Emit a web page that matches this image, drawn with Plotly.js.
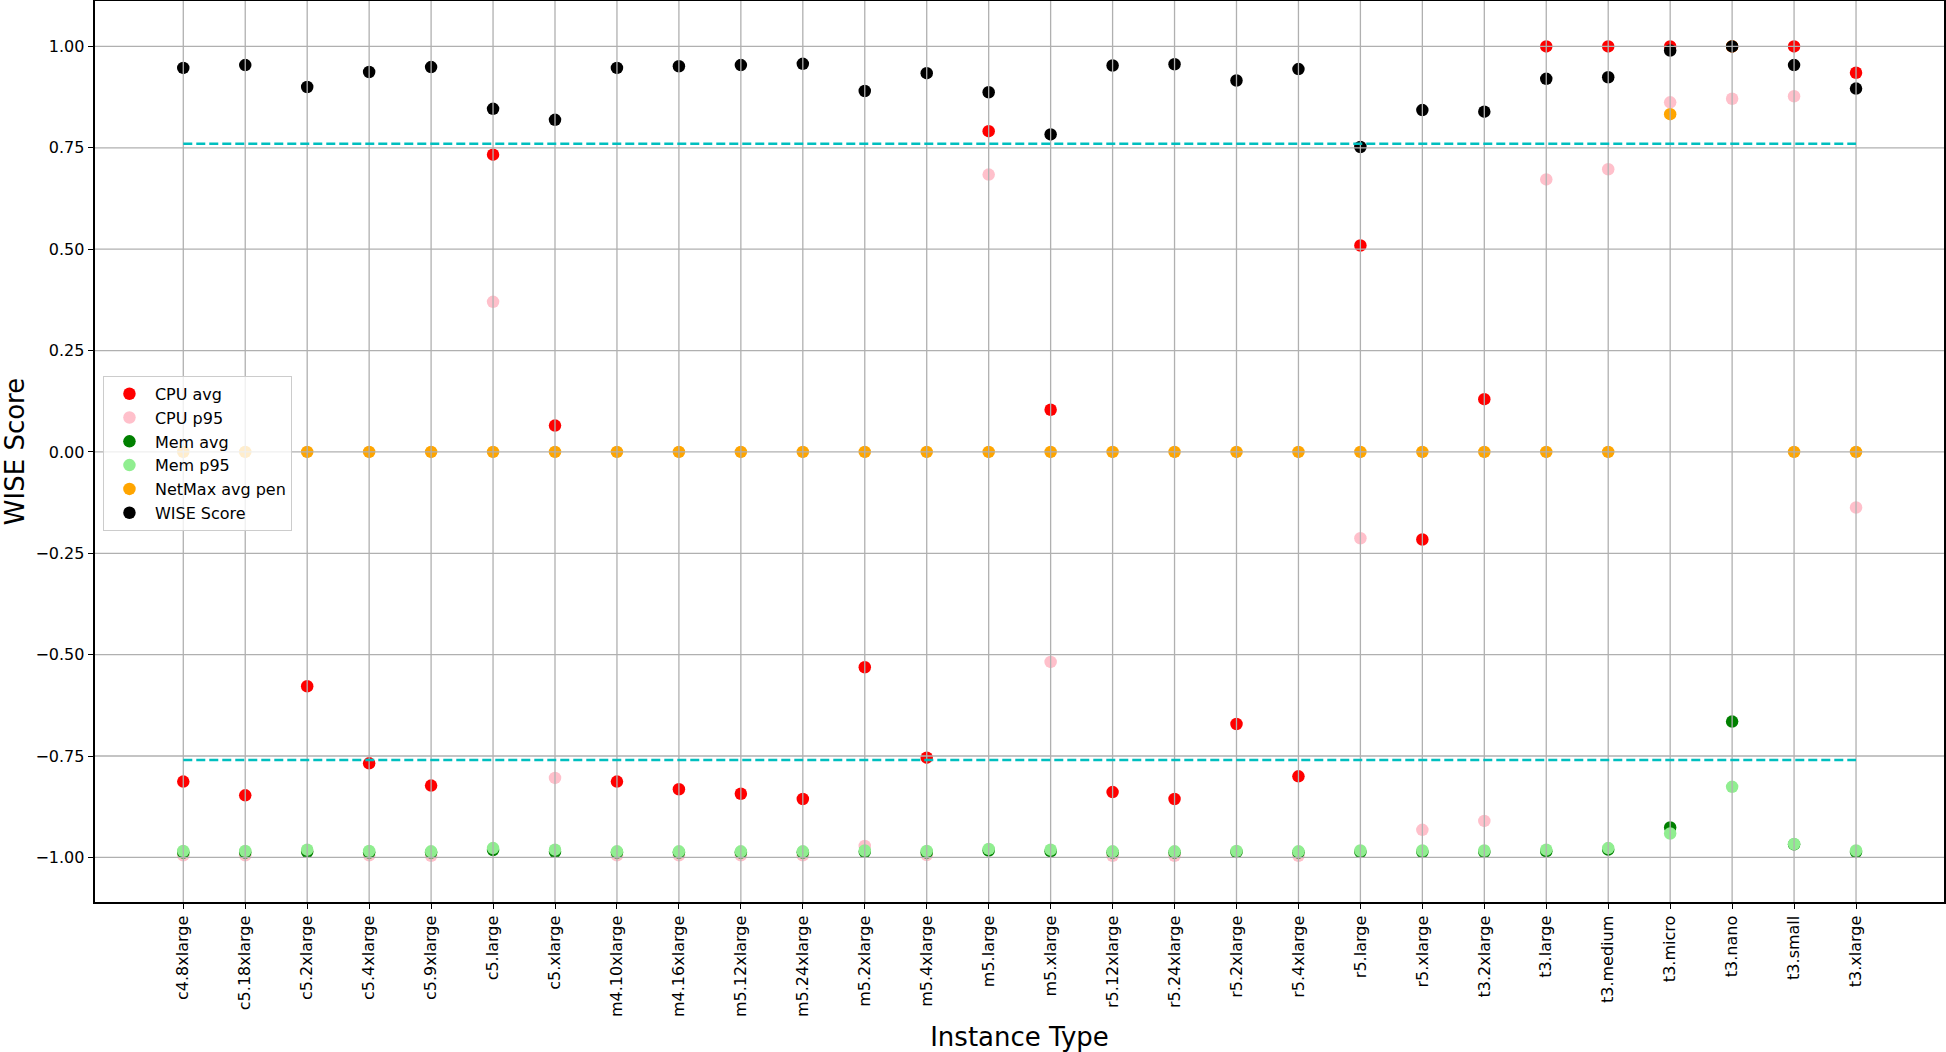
<!DOCTYPE html>
<html>
<head>
<meta charset="utf-8">
<script src="https://cdn.plot.ly/plotly-3.0.1.min.js"></script>
<style>
html, body { margin: 0; padding: 0; background: #fff; }
#chart { width: 1946px; height: 1052px; }
</style>
</head>
<body>
<div id="chart"></div>
<script>
// ---- Data ----
const categories = ["c4.8xlarge","c5.18xlarge","c5.2xlarge","c5.4xlarge","c5.9xlarge","c5.large","c5.xlarge","m4.10xlarge","m4.16xlarge","m5.12xlarge","m5.24xlarge","m5.2xlarge","m5.4xlarge","m5.large","m5.xlarge","r5.12xlarge","r5.24xlarge","r5.2xlarge","r5.4xlarge","r5.large","r5.xlarge","t3.2xlarge","t3.large","t3.medium","t3.micro","t3.nano","t3.small","t3.xlarge"];

const cpuAvg = [-0.813,-0.847,-0.578,-0.768,-0.823,0.733,0.065,-0.813,-0.832,-0.843,-0.856,-0.531,-0.754,0.791,0.104,-0.839,-0.856,-0.671,-0.800,0.509,-0.216,0.130,1.0,1.0,1.0,1.0,1.0,0.935];
const cpuP95 = [-0.995,-0.995,-0.985,-0.995,-0.996,0.370,-0.804,-0.995,-0.995,-0.995,-0.995,-0.972,-0.994,0.684,-0.518,-0.996,-0.996,-0.986,-0.996,-0.213,-0.932,-0.910,0.672,0.697,0.862,0.871,0.877,-0.137];
const memAvg = [-0.988,-0.988,-0.986,-0.988,-0.988,-0.982,-0.986,-0.988,-0.988,-0.988,-0.988,-0.986,-0.988,-0.983,-0.985,-0.988,-0.988,-0.987,-0.988,-0.987,-0.987,-0.987,-0.985,-0.981,-0.926,-0.665,-0.968,-0.987];
const memP95 = [-0.984,-0.984,-0.981,-0.984,-0.985,-0.977,-0.981,-0.985,-0.985,-0.985,-0.985,-0.983,-0.984,-0.979,-0.981,-0.985,-0.985,-0.984,-0.985,-0.983,-0.983,-0.983,-0.981,-0.977,-0.941,-0.826,-0.967,-0.983];
const netMax = [0,0,0,0,0,0,0,0,0,0,0,0,0,0,0,0,0,0,0,0,0,0,0,0,0.833,1.0,0,0];
const wiseScore = [0.947,0.954,0.900,0.937,0.949,0.846,0.819,0.947,0.951,0.954,0.957,0.890,0.934,0.887,0.783,0.953,0.956,0.916,0.944,0.752,0.843,0.839,0.920,0.924,0.990,1.000,0.954,0.896];

const thresholds = [0.76, -0.76];
const yTicks = [-1.0,-0.75,-0.5,-0.25,0.0,0.25,0.5,0.75,1.0];

const seriesNames = ["CPU avg","CPU p95","Mem avg","Mem p95","NetMax avg pen","WISE Score"];
const seriesColors = ["#ff0000","#ffc0cb","#008000","#90ee90","#ffa500","#000000"];
const seriesValues = [cpuAvg, cpuP95, memAvg, memP95, netMax, wiseScore];

// ---- Traces ----
const FONT = "DejaVu Sans, Verdana, sans-serif";
const traces = seriesValues.map((vals, i) => ({
  type: "scatter",
  mode: "markers",
  name: seriesNames[i],
  x: categories,
  y: vals,
  marker: { color: seriesColors[i], size: 12.5, line: { width: 0 } },
  hoverinfo: "x+y+name"
}));

// ---- Grid (drawn above markers, like matplotlib) and threshold lines ----
const gridColor = "#b0b0b0";
const shapes = [];
categories.forEach(c => shapes.push({
  type: "line", xref: "x", yref: "paper", x0: c, x1: c, y0: 0, y1: 1,
  line: { color: gridColor, width: 1.3 }, layer: "above"
}));
yTicks.forEach(v => shapes.push({
  type: "line", xref: "paper", yref: "y", x0: 0, x1: 1, y0: v, y1: v,
  line: { color: gridColor, width: 1.3 }, layer: "above"
}));
thresholds.forEach(t => shapes.push({
  type: "line", xref: "x", yref: "y",
  x0: categories[0], x1: categories[categories.length - 1], y0: t, y1: t,
  line: { color: "#00bfbf", width: 2.5, dash: "9px,4px" }, layer: "above"
}));

const layout = {
  width: 1946,
  height: 1052,
  margin: { l: 95, r: 2, t: 1, b: 150, pad: 0 },
  paper_bgcolor: "#ffffff",
  plot_bgcolor: "#ffffff",
  font: { family: FONT, size: 16, color: "#000000" },
  showlegend: true,
  legend: {
    x: 0.0043, y: 0.584, xanchor: "left", yanchor: "top",
    bgcolor: "rgba(255,255,255,0.8)",
    bordercolor: "#cccccc", borderwidth: 1,
    itemwidth: 41,
    font: { family: FONT, size: 16, color: "#000000" }
  },
  xaxis: {
    type: "category",
    categoryorder: "array",
    categoryarray: categories,
    range: [-1.425, 28.42],
    showgrid: false,
    zeroline: false,
    showline: true, mirror: true, linecolor: "#000000", linewidth: 1.5,
    ticks: "outside", ticklen: 5.6, tickwidth: 1.3, tickcolor: "#000000",
    tickangle: -90,
    tickfont: { family: FONT, size: 16, color: "#000000" },
    title: { text: "Instance Type", font: { family: FONT, size: 26, color: "#000000" }, standoff: 12 }
  },
  yaxis: {
    range: [-1.11, 1.112],
    tickmode: "array",
    tickvals: yTicks,
    tickformat: ".2f",
    showgrid: false,
    zeroline: false,
    showline: true, mirror: true, linecolor: "#000000", linewidth: 1.5,
    ticks: "outside", ticklen: 5.6, tickwidth: 1.3, tickcolor: "#000000",
    tickfont: { family: FONT, size: 16, color: "#000000" },
    title: { text: "WISE Score", font: { family: FONT, size: 26, color: "#000000" }, standoff: 14 }
  },
  shapes: shapes
};

Plotly.newPlot("chart", traces, layout, { displayModeBar: false, responsive: false });
</script>
</body>
</html>
